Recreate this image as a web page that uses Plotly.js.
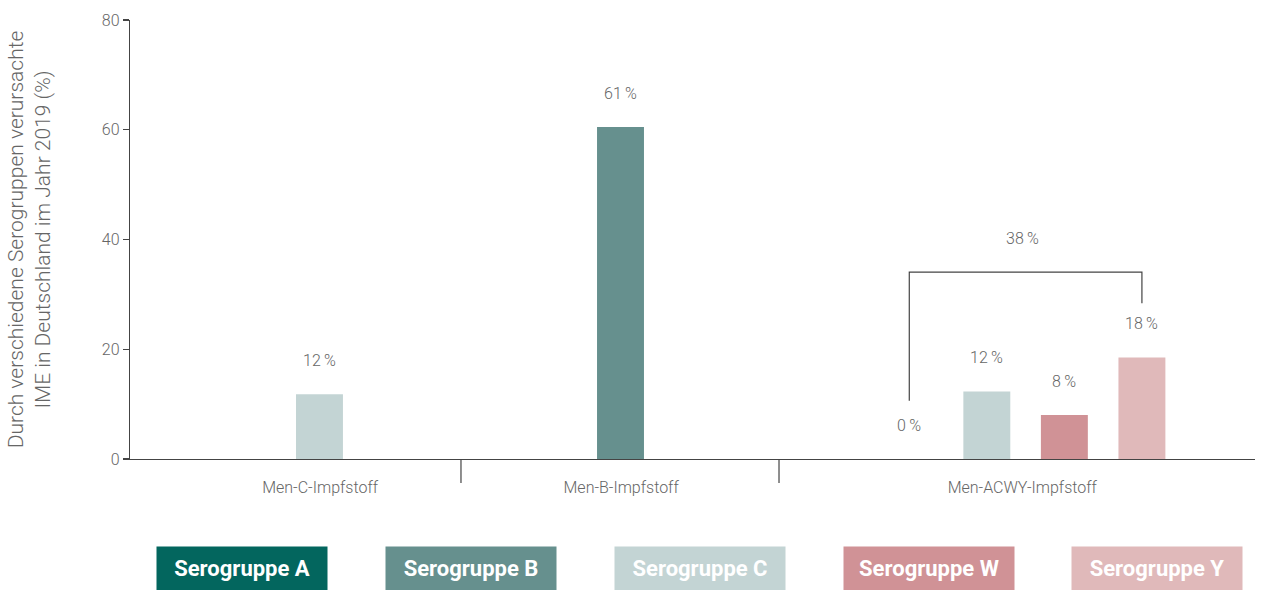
<!DOCTYPE html>
<html>
<head>
<meta charset="utf-8">
<script src="https://cdn.plot.ly/plotly-3.0.1.min.js"></script>
<style>html,body{margin:0;padding:0;background:#fff;}#chart{width:1269px;height:590px;}</style>
</head>
<body>
<div id="chart"></div>
<script>
// ---- data ----
const groups = ["Men-C-Impfstoff", "Men-B-Impfstoff", "Men-ACWY-Impfstoff"];
const serogroups = ["A", "B", "C", "W", "Y"];
const legendLabels = ["Serogruppe A", "Serogruppe B", "Serogruppe C", "Serogruppe W", "Serogruppe Y"];

const menCSerogroups = ["C"];
const menCValues = [11.8];
const menCLabels = [12];

const menBSerogroups = ["B"];
const menBValues = [60.5];
const menBLabels = [61];

const acwySerogroups = ["A", "C", "W", "Y"];
const acwyValues = [0, 12.3, 8.0, 18.5];
const acwyLabels = [0, 12, 8, 18];
const acwyTotal = 38;

const yTicks = [0, 20, 40, 60, 80];

// ---- layout / style ----
const colors = {A: "#03665E", B: "#66908E", C: "#C3D4D4", W: "#D09296", Y: "#E0B9BA"};
const groupLayout = [
  {start: 2.442, step: 1.0, label: 2.45},
  {start: 6.322, step: 1.0, label: 6.33},
  {start: 10.044, step: 0.9995, label: 11.5}
];
const separators = [4.266, 8.365];
const xRange = [0, 14.5];
const barWidth = 0.605;
const textColor = "#666666";
const lineColor = "#444444";
const FONT = "Roboto, 'Open Sans', sans-serif";
const pct = v => v + "\u2009%";

const groupData = [
  {sg: menCSerogroups, vals: menCValues, labels: menCLabels},
  {sg: menBSerogroups, vals: menBValues, labels: menBLabels},
  {sg: acwySerogroups, vals: acwyValues, labels: acwyLabels}
];

// build per-serogroup traces
const traces = serogroups.map(s => ({type: "bar", name: "Serogruppe " + s, x: [], y: [], width: [],
  marker: {color: colors[s]}, hoverinfo: "skip", showlegend: false}));
const annotations = [];
const barX = [];
groupData.forEach((g, gi) => {
  const xs = [];
  g.sg.forEach((s, i) => {
    const x = groupLayout[gi].start + i * groupLayout[gi].step;
    xs.push(x);
    const t = traces[serogroups.indexOf(s)];
    t.x.push(x); t.y.push(g.vals[i]); t.width.push(barWidth);
    annotations.push({x: x, y: g.vals[i], xref: "x", yref: "y", text: pct(g.labels[i]),
      showarrow: false, yshift: 34, font: {family: FONT, size: 16, color: textColor, weight: 300}});
  });
  barX.push(xs);
});

// bracket over ACWY group
const acwyX = barX[2];
const bracketTop = 34.06;
const legOffset = 10.6;
const shapes = [{
  type: "path", xref: "x", yref: "y",
  path: `M ${acwyX[0]},${acwyValues[0] + legOffset} L ${acwyX[0]},${bracketTop} L ${acwyX[acwyX.length-1]},${bracketTop} L ${acwyX[acwyX.length-1]},${acwyValues[acwyValues.length-1] + legOffset - 0.7}`,
  line: {color: lineColor, width: 1.2}
}];
annotations.push({x: groupLayout[2].label, y: bracketTop, xref: "x", yref: "y", text: pct(acwyTotal),
  showarrow: false, yshift: 34, font: {family: FONT, size: 16, color: textColor, weight: 300}});

// separators below x axis
separators.forEach(sx => shapes.push({type: "line", xref: "x", yref: "paper", x0: sx, x1: sx, y0: 0, y1: -0.0547,
  line: {color: lineColor, width: 1.2}}));

// legend boxes
const plotL = 130, plotW = 1125, plotT = 20, plotH = 439;
const legendCenters = [242, 471, 700, 929, 1157];
serogroups.forEach((s, i) => {
  annotations.push({xref: "paper", yref: "paper", x: (legendCenters[i] - plotL) / plotW, y: (plotT + plotH - 568.5) / plotH,
    xanchor: "center", yanchor: "middle", text: "<b>" + legendLabels[i] + "</b>", showarrow: false,
    bgcolor: colors[s], width: 170, height: 43, borderpad: 0,
    font: {family: FONT, size: 22, color: "#ffffff"}});
});

const layout = {
  width: 1269, height: 590,
  margin: {l: plotL, r: 1269 - plotL - plotW, t: plotT, b: 590 - plotT - plotH},
  paper_bgcolor: "#ffffff", plot_bgcolor: "#ffffff",
  barmode: "overlay",
  showlegend: false,
  xaxis: {range: xRange, showgrid: false, zeroline: false, showline: true, linecolor: lineColor, linewidth: 1.2,
    tickvals: groupLayout.map(g => g.label), ticktext: groups, ticks: "outside", ticklen: 14, tickcolor: "rgba(0,0,0,0)",
    tickfont: {family: FONT, size: 16, color: textColor, weight: 300}, fixedrange: true},
  yaxis: {range: [0, 80], tickvals: yTicks, showgrid: false, zeroline: false, showline: true, linecolor: lineColor, linewidth: 1.2,
    ticks: "outside", ticklen: 6, tickcolor: lineColor, tickwidth: 1.2,
    tickfont: {family: FONT, size: 16, color: textColor, weight: 300},
    title: {text: "Durch verschiedene Serogruppen verursachte<br>IME in Deutschland im Jahr 2019 (%)",
      font: {family: FONT, size: 21, color: textColor, weight: 300}, standoff: 45}, automargin: false, fixedrange: true},
  shapes: shapes,
  annotations: annotations
};

Plotly.newPlot("chart", traces, layout, {displayModeBar: false, staticPlot: true});
</script>
</body>
</html>
